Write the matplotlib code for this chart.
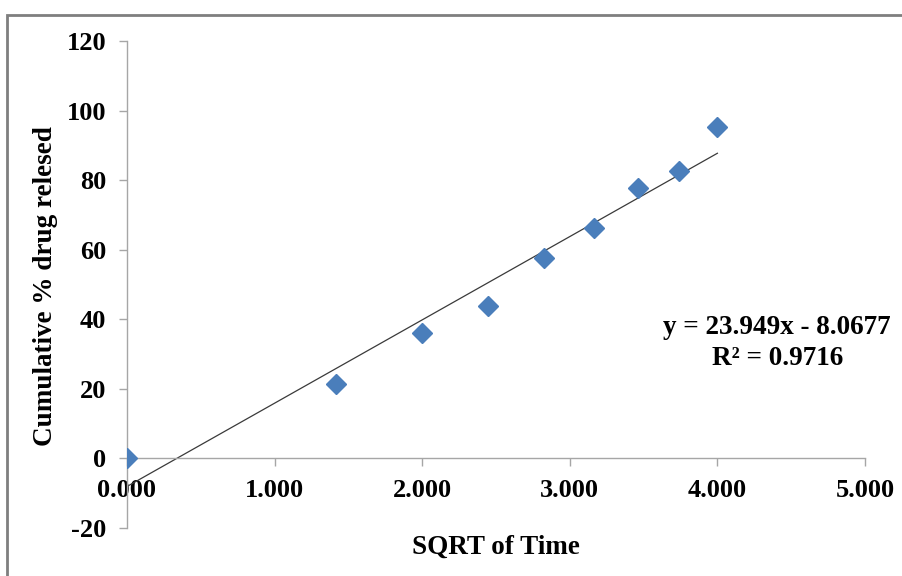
import numpy as np
import matplotlib.pyplot as plt
from matplotlib.patches import Rectangle

# data: square root of time vs cumulative release
sqrt_time = [0.0, 1.414, 2.0, 2.449, 2.828, 3.162, 3.464, 3.742, 4.0]
released = [0.0, 21.3, 36.0, 43.7, 57.6, 66.2, 77.7, 82.6, 95.3]

# linear trendline as printed on the chart
slope = 23.949
intercept = -8.0677
r_squared = 0.9716

x_ticks = [0, 1, 2, 3, 4, 5]
y_ticks = [-20, 0, 20, 40, 60, 80, 100, 120]

plt.rcParams['font.family'] = ['Liberation Serif', 'DejaVu Serif']
plt.rcParams['font.weight'] = 'bold'
plt.rcParams['axes.unicode_minus'] = False

fig = plt.figure(figsize=(9.03, 5.76), dpi=100)
ax = fig.add_axes([127 / 903, 48 / 576, 738 / 903, 487 / 576])

# outer chart border (only top and left visible in the crop)
fig.patches.append(Rectangle((7 / 903, -0.2), 1.5, 1.2 - 15 / 576,
                             transform=fig.transFigure, fill=False,
                             edgecolor='#7f7f7f', linewidth=2.0))

xfit = np.array([sqrt_time[0], sqrt_time[-1]])
ax.plot(xfit, slope * xfit + intercept, color='#3a3a3a', linewidth=0.9, zorder=2)
ax.plot(sqrt_time, released, linestyle='none', marker='D', markersize=10,
        color='#4a7ebb', markeredgecolor='#4a7ebb', zorder=3)

ax.set_xlim(0, 5)
ax.set_ylim(-20, 120)
ax.set_xticks(x_ticks)
ax.set_xticklabels(['{:.3f}'.format(v) for v in x_ticks])
ax.set_yticks(y_ticks)

for side in ['top', 'right']:
    ax.spines[side].set_visible(False)
ax.spines['bottom'].set_position(('data', 0))
for side in ['left', 'bottom']:
    ax.spines[side].set_color('#a6a6a6')
    ax.spines[side].set_linewidth(1.0)

ax.tick_params(axis='both', direction='out', length=6, width=1.0,
               color='#a6a6a6', labelsize=19)
ax.tick_params(axis='x', pad=9)
ax.tick_params(axis='y', pad=9)

ax.set_xlabel('SQRT of Time', fontsize=19.5, fontweight='bold')
ax.xaxis.set_label_coords(0.5, -0.039)
ax.xaxis.label.set_va('center')
ax.set_ylabel('Cumulative % drug relesed', fontsize=19.5, fontweight='bold')
ax.yaxis.set_label_coords(-0.11, 0.497)
ax.yaxis.label.set_va('center')

ax.text(0.881, 0.38, 'y = {}x - {}\nR² = {}'.format(slope, -intercept, r_squared),
        transform=ax.transAxes, ha='center', va='center', fontsize=19.5,
        fontweight='bold', linespacing=1.3)

fig.savefig('out.png', dpi=100)
